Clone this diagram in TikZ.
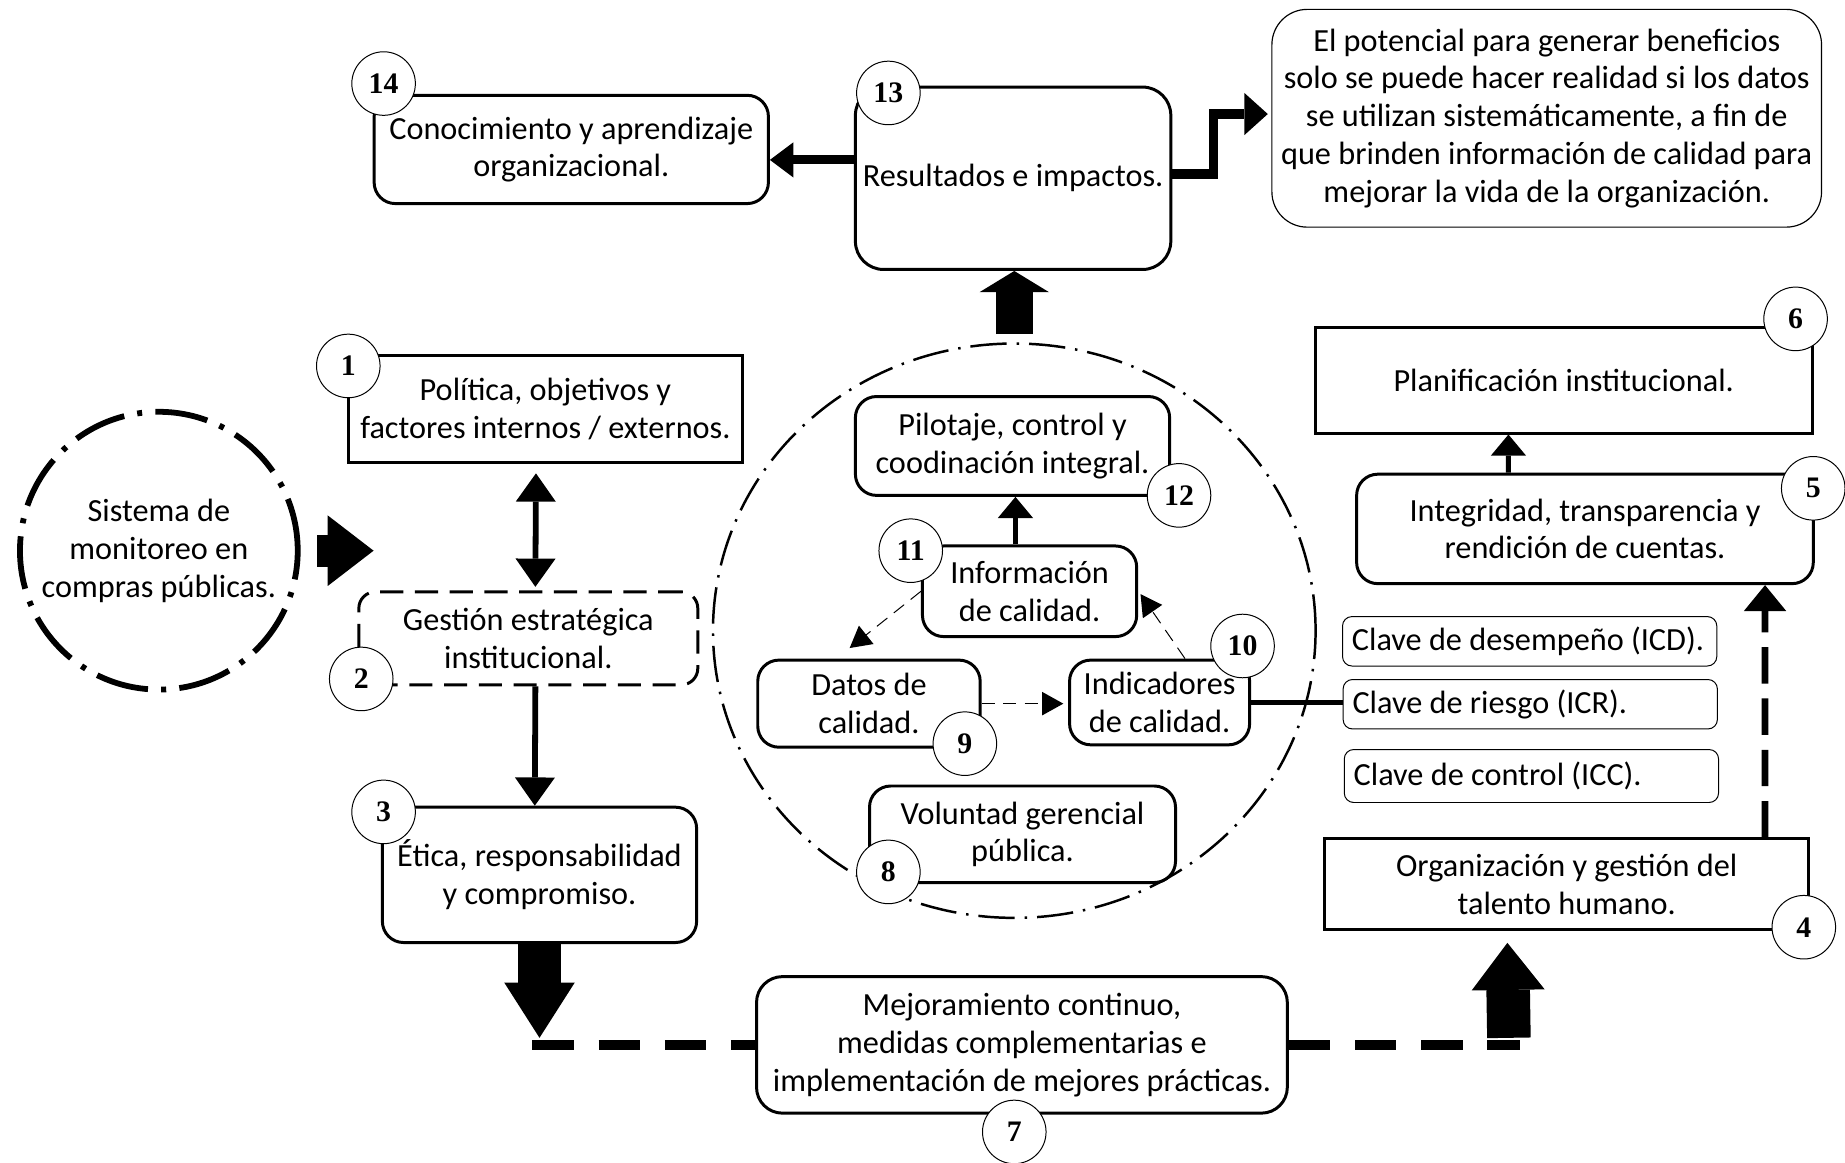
\documentclass[tikz,border=0pt]{standalone}
\usepackage{fontspec}
\setmainfont{Carlito}
\newfontfamily\numfont{Liberation Serif}
\usetikzlibrary{arrows.meta,shapes.geometric}

\tikzset{
    boxtext/.style = {font=\fontsize{19.5}{22.8}\selectfont},
    sqbox/.style = {rectangle, draw=black, line width=1.8pt, align=center, inner sep=0pt, boxtext},
    rbox/.style = {sqbox, rounded corners=0.45cm},
    gbox/.style = {rbox, rounded corners=0.35cm, dash pattern=on 14pt off 7pt},
    notebox/.style = {rectangle, draw=black, line width=0.7pt, rounded corners=0.75cm, align=center, inner sep=0pt, boxtext},
    clave/.style = {rectangle, draw=black, line width=0.6pt, rounded corners=0.2cm, align=flush left, inner xsep=0.2cm, inner ysep=0pt, text width=7.55cm, minimum height=1.05cm, boxtext},
    numc/.style = {circle, draw=black, line width=0.6pt, fill=white, minimum size=1.35cm, inner sep=0pt, font=\numfont\bfseries\fontsize{18}{18}\selectfont},
    sisc/.style = {circle, draw=black, line width=3.5pt, dash pattern=on 32pt off 8pt on 3pt off 8pt, minimum size=5.9cm, align=center, inner sep=0pt, boxtext},
    ring/.style = {ellipse, draw=black, line width=1.5pt, dash pattern=on 22pt off 6pt on 1.5pt off 6pt, minimum width=12.8cm, minimum height=12.2cm},
    fatarrow/.style = {line width=#1, -{Triangle[length=1.1cm, width=1.5cm, line width=0pt]}},
    medarrow/.style = {line width=3.5pt, -{Triangle[length=0.6cm, width=0.85cm, line width=0pt]}},
    smallarrow/.style = {line width=3pt, -{Triangle[length=0.45cm, width=0.75cm, line width=0pt]}},
    thinarrow/.style = {line width=0.6pt, dash pattern=on 8pt off 5pt, -{Triangle[length=0.45cm, width=0.5cm, line width=0pt]}},
    thickdash/.style = {line width=6pt, dash pattern=on 25pt off 15pt},
}

\begin{document}
\begin{tikzpicture}[x=0.025cm, y=-0.025cm]
\useasboundingbox (0,0) rectangle (1568,988);

% centre ring
\node[ring] (ring) at (862,536) {};

% left column
\node[sisc] (sis) at (135,468) {Sistema de\\monitoreo en\\compras públicas.};
\node[sqbox, minimum width=8.375cm, minimum height=2.275cm] (pol) at (463.5,347.5) {Política, objetivos y\\factores internos / externos.};
\node[gbox, minimum width=7.2cm, minimum height=1.975cm] (gest) at (449,542.5) {Gestión estratégica\\institucional.};
\node[rbox, minimum width=6.675cm, minimum height=2.875cm] (etica) at (458.5,743.5) {Ética, responsabilidad\\y compromiso.};

% top row
\node[rbox, minimum width=8.375cm, minimum height=2.3cm] (conoc) at (485.5,127) {Conocimiento y aprendizaje\\organizacional.};
\node[rbox, rounded corners=0.6cm, minimum width=6.7cm, minimum height=3.875cm] (result) at (861,151.5) {Resultados e impactos.};
\node[notebox, minimum width=11.675cm, minimum height=4.625cm] (note) at (1314.5,100.5) {El potencial para generar beneficios\\solo se puede hacer realidad si los datos\\se utilizan sistemáticamente, a fin de\\que brinden información de calidad para\\mejorar la vida de la organización.};

% inside the ring
\node[rbox, minimum width=6.675cm, minimum height=2.1cm] (pilot) at (860.5,379) {Pilotaje, control y\\coodinación integral.};
\node[rbox, minimum width=4.55cm, minimum height=1.925cm] (info) at (875,502.5) {Información\\de calidad.};
\node[rbox, minimum width=4.725cm, minimum height=1.85cm] (datos) at (738.5,598) {Datos de\\calidad.};
\node[rbox, minimum width=3.825cm, minimum height=1.8cm] (indic) at (985.5,597) {Indicadores\\de calidad.};
\node[rbox, minimum width=6.5cm, minimum height=2.05cm] (volun) at (869,709) {Voluntad gerencial\\pública.};

% right column
\node[sqbox, minimum width=10.55cm, minimum height=2.25cm] (plan) at (1329,323) {Planificación institucional.};
\node[rbox, minimum width=9.7cm, minimum height=2.325cm] (integ) at (1347,449.5) {Integridad, transparencia y\\rendición de cuentas.};
\node[clave] (icd) at (1300,545) {Clave de desempeño (ICD).};
\node[clave] (icr) at (1300.5,598.5) {Clave de riesgo (ICR).};
\node[clave, minimum height=1.125cm] (icc) at (1301.5,659.5) {Clave de control (ICC).};
\node[sqbox, minimum width=10.275cm, minimum height=1.925cm] (talento) at (1331.5,751.5) {Organización y gestión del\\talento humano.};

% bottom
\node[rbox, rounded corners=0.55cm, minimum width=11.275cm, minimum height=2.9cm] (mejora) at (868.5,888) {Mejoramiento continuo,\\medidas complementarias e\\implementación de mejores prácticas.};

% connectors
\draw[fatarrow=0.675cm, -{Triangle[length=0.975cm, width=1.5cm, line width=0pt]}] ([xshift=0.35cm]sis.east) -- ++(48,0);
\draw[medarrow, {Triangle[length=0.6cm, width=0.85cm, line width=0pt]}-{Triangle[length=0.6cm, width=0.85cm, line width=0pt]}] ([xshift=-0.2cm, yshift=-0.2cm]pol.south) -- ([xshift=0.15cm, yshift=0.075cm]gest.north);
\draw[medarrow] ([xshift=0.15cm]gest.south) -- ([xshift=-0.1cm]etica.north);
\draw[fatarrow=0.925cm, -{Triangle[length=1.175cm, width=1.5cm, line width=0pt]}] (etica.south) -- ([yshift=0.15cm]etica.south |- mejora.west);
\draw[thickdash] ([xshift=-0.15cm]etica.south |- mejora.west) -- (mejora.west);
\coordinate (rcorner) at ([xshift=4.9cm]mejora.east);
\draw[thickdash] (mejora.east) -- (rcorner);
\draw[fatarrow=0.925cm, -{Triangle[length=1cm, width=1.55cm, line width=0pt]}] ([xshift=-0.225cm, yshift=0.15cm]rcorner) -- ([xshift=-1.26cm, yshift=-0.25cm]talento.south);
\draw[line width=4pt, dash pattern=on 22pt off 9pt, -{Triangle[length=0.55cm, width=0.9cm, line width=0pt]}] ([xshift=4.2125cm]talento.north) -- ([xshift=3.825cm]integ.south);
\draw[smallarrow] ([xshift=-1.625cm]integ.north) -- ([xshift=-1.175cm]plan.south);
\draw[line width=3.5pt] (indic.east) -- (indic.east -| icr.west);
\draw[smallarrow] ([xshift=-0.3cm]info.north) -- ([xshift=-0.3cm]info.north |- pilot.south);
\draw[thinarrow] (info.west) -- ([xshift=-0.41cm, yshift=0.225cm]datos.north);
\draw[thinarrow] (datos.east) -- ([xshift=-0.1cm]datos.east -| indic.west);
\draw[thinarrow] ([xshift=0.54cm]indic.north) -- ([xshift=0.05cm, yshift=-0.06cm]info.east);
\draw[fatarrow=0.775cm, -{Triangle[length=0.45cm, width=1.475cm, line width=0pt]}] ([yshift=0.175cm]ring.north) -- (ring.north |- result.south);
\draw[line width=5.5pt, -{Triangle[length=0.5cm, width=0.75cm, line width=0pt]}] ([yshift=0.39cm]result.west) -- ([yshift=0.39cm]result.west -| conoc.east);
\draw[line width=5.5pt, -{Triangle[length=0.5cm, width=0.9cm, line width=0pt]}] ([yshift=0.09cm]result.east) -- ++(35,0) |- ([xshift=-0.075cm, yshift=0.09cm]note.west);

% number circles
\node[numc] (n1) at (296,311) {1};
\node[numc] (n2) at (307,577) {2};
\node[numc] (n3) at (326,690) {3};
\node[numc] (n4) at (1533,788) {4};
\node[numc] (n5) at (1541,415) {5};
\node[numc] (n6) at (1526,271) {6};
\node[numc] (n7) at (862,962) {7};
\node[numc] (n8) at (755,741) {8};
\node[numc] (n9) at (820,632) {9};
\node[numc] (n10) at (1056,549) {10};
\node[numc] (n11) at (774,468) {11};
\node[numc] (n12) at (1002,421) {12};
\node[numc] (n13) at (755,79) {13};
\node[numc] (n14) at (326,71) {14};
\end{tikzpicture}
\end{document}
